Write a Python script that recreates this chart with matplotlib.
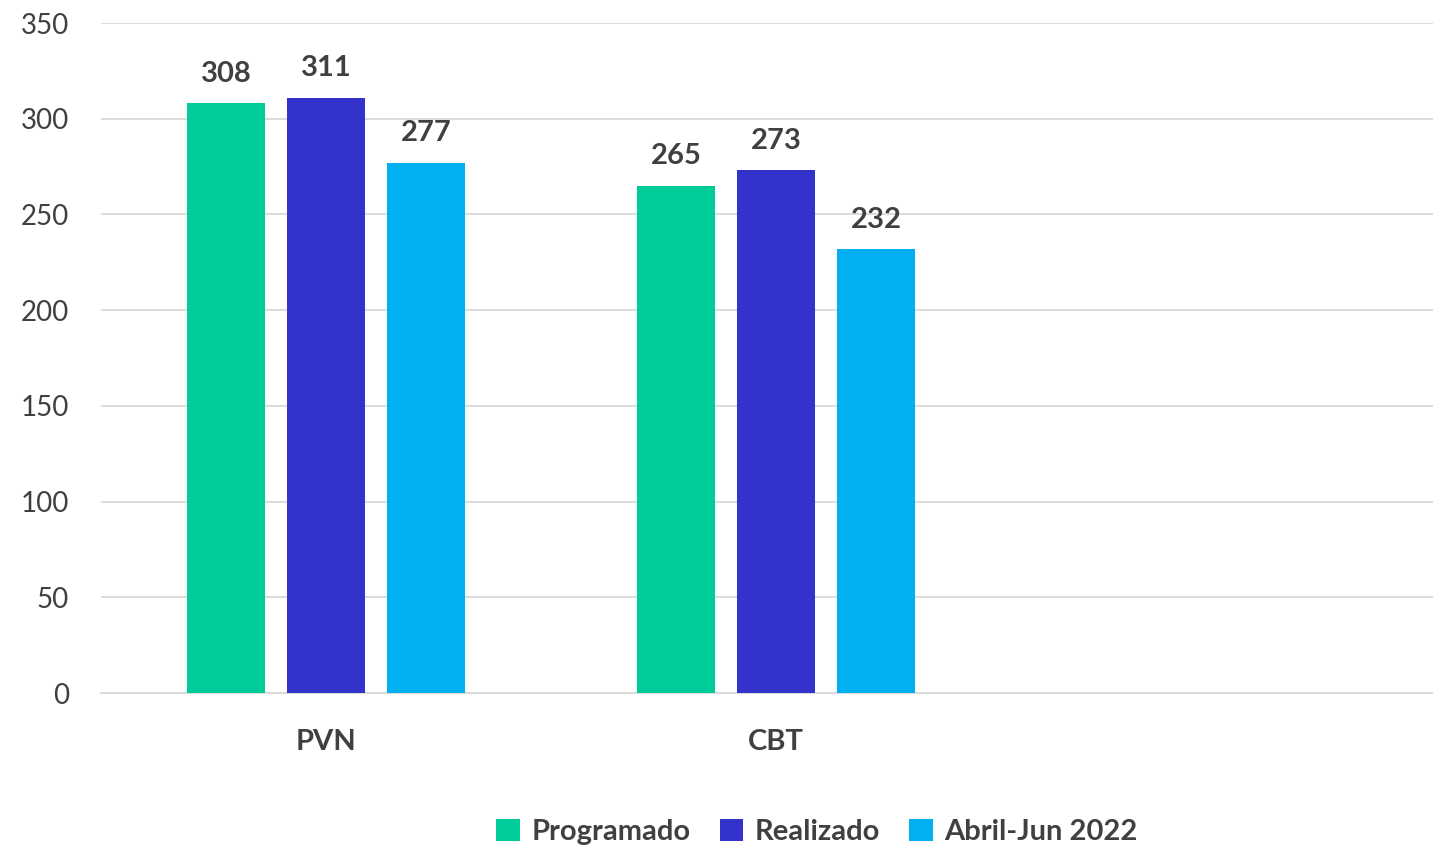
import numpy as np
import matplotlib.pyplot as plt

plt.rcParams['font.family'] = ['Lato', 'DejaVu Sans']

categories = ['PVN', 'CBT', '']
series_names = ['Programado', 'Realizado', 'Abril-Jun 2022']
programado = [308, 265, np.nan]
realizado = [311, 273, np.nan]
abril_jun = [277, 232, np.nan]
colors = ['#00CC99', '#3333CC', '#00B0F0']

fig = plt.figure(figsize=(14.33, 8.49), dpi=100)
ax = fig.add_axes([101 / 1433, 1 - 693 / 849, 1350 / 1433, 670 / 849])

x = np.arange(len(categories))
w = 0.174
step = 0.222
for i, (vals, name, c) in enumerate(zip([programado, realizado, abril_jun], series_names, colors)):
    pos = x + (i - 1) * step
    ax.bar(pos, vals, width=w, color=c, label=name, zorder=3)
    for p, v in zip(pos, vals):
        if not np.isnan(v):
            ax.text(p, v + 8.5, f'{v:.0f}', ha='center', va='bottom', fontsize=21,
                    fontweight='bold', color='#404040')

ax.set_xlim(-0.5, 2.5)
ax.set_ylim(0, 350)
ax.set_yticks(range(0, 351, 50))
ax.set_xticks(x)
ax.set_xticklabels(categories, fontsize=21, fontweight='bold', color='#404040')
ax.tick_params(axis='y', labelsize=20, labelcolor='#404040', length=0, pad=23)
ax.tick_params(axis='x', length=0, pad=26)
ax.grid(axis='y', color='#D9D9D9', linewidth=1.3, zorder=0)
for s in ['top', 'right', 'left']:
    ax.spines[s].set_visible(False)
ax.spines['bottom'].set_color('#D9D9D9')
ax.spines['bottom'].set_linewidth(1.3)

leg = fig.legend(loc='center', bbox_to_anchor=(817 / 1433, 1 - 832 / 849), ncol=3, frameon=False,
                 prop={'size': 21, 'weight': 'bold'}, handlelength=0.8, handleheight=0.8,
                 handletextpad=0.4, columnspacing=1.0)
for t in leg.get_texts():
    t.set_color('#404040')

fig.savefig('out.png', dpi=100)
